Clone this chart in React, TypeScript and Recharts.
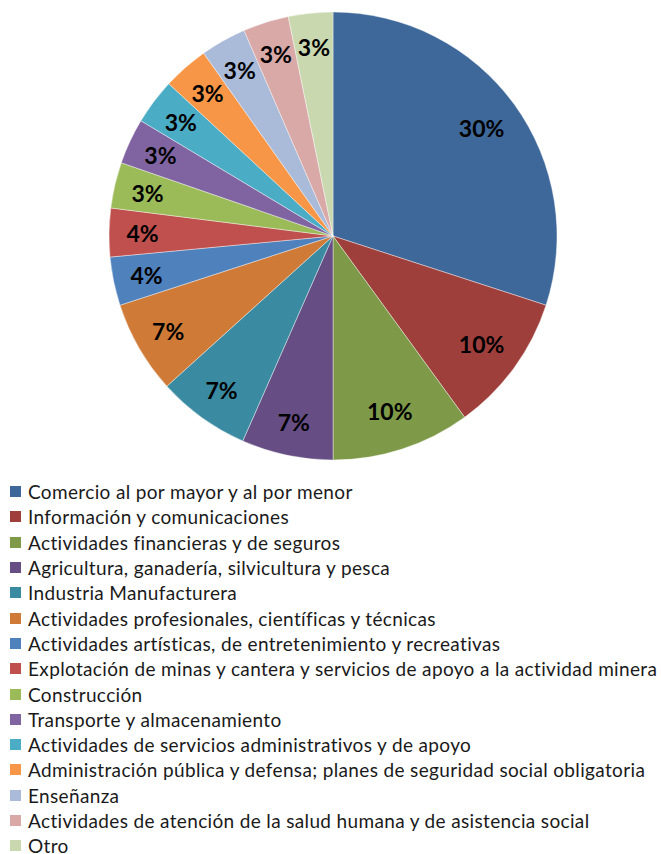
import { PieChart, Pie, Cell } from "recharts";

const SECTORS = [
  "Comercio al por mayor y al por menor",
  "Información y comunicaciones",
  "Actividades financieras y de seguros",
  "Agricultura, ganadería, silvicultura y pesca",
  "Industria Manufacturera",
  "Actividades profesionales, científicas y técnicas",
  "Actividades artísticas, de entretenimiento y recreativas",
  "Explotación de minas y cantera y servicios de apoyo a la actividad minera",
  "Construcción",
  "Transporte y almacenamiento",
  "Actividades de servicios administrativos y de apoyo",
  "Administración pública y defensa; planes de seguridad social obligatoria",
  "Enseñanza",
  "Actividades de atención de la salud humana y de asistencia social",
  "Otro",
];

const SHARES = [30, 10, 10, 6.6, 6.7, 6.7, 3.5, 3.5, 3.3, 3.3, 3.3, 3.3, 3.3, 3.3, 3.2];

const COLORS = [
  "#3E6899",
  "#9F3F3C",
  "#7E9A48",
  "#664E84",
  "#3A8BA2",
  "#CF7B37",
  "#4F81BD",
  "#C0504D",
  "#9BBB59",
  "#8064A2",
  "#4BACC6",
  "#F79646",
  "#AABBD9",
  "#D9A9A8",
  "#C9D8AF",
];

const data = SECTORS.map((name, i) => ({ name, value: SHARES[i] }));
const total = SHARES.reduce((s, v) => s + v, 0);

const RAD = Math.PI / 180;

function renderLabel(props: any) {
  const { cx, cy, midAngle, outerRadius, value } = props;
  const pct = (value / total) * 100;
  // big slices get their label a bit nearer the centre, like Excel's best fit
  const r = outerRadius * (pct >= 10 ? 0.82 : 0.85);
  const x = cx + r * Math.cos(-midAngle * RAD);
  const y = cy + r * Math.sin(-midAngle * RAD);
  return (
    <text
      x={x}
      y={y}
      fill="#000"
      textAnchor="middle"
      dominantBaseline="central"
      fontSize={23}
      fontWeight="bold"
      fontFamily="Lato, sans-serif"
    >
      {Math.round(pct)}%
    </text>
  );
}

export default function App() {
  return (
    <div style={{ position: "absolute", left: 0, top: 0, width: 661, height: 854, background: "#fff", fontFamily: "Lato, sans-serif" }}>
      <PieChart width={661} height={472} margin={{ top: 0, right: 0, bottom: 0, left: 0 }}>
        <Pie
          data={data}
          dataKey="value"
          nameKey="name"
          cx={333}
          cy={236}
          outerRadius={224}
          startAngle={90}
          endAngle={-270}
          stroke="#ffffff"
          strokeWidth={0.4}
          label={renderLabel}
          labelLine={false}
          isAnimationActive={false}
        >
          {data.map((_, i) => (
            <Cell key={i} fill={COLORS[i]} />
          ))}
        </Pie>
      </PieChart>
      {/* Legend */}
      <div style={{ position: "absolute", left: 10, top: 479 }}>
        {SECTORS.map((name, i) => (
          <div key={name} style={{ display: "flex", alignItems: "center", height: 25.3 }}>
            <div style={{ width: 11, height: 11, background: COLORS[i], marginRight: 7 }} />
            <span style={{ fontSize: 19, letterSpacing: 0.35, color: "#1a1a1a", whiteSpace: "nowrap" }}>
              {name}
            </span>
          </div>
        ))}
      </div>
    </div>
  );
}
